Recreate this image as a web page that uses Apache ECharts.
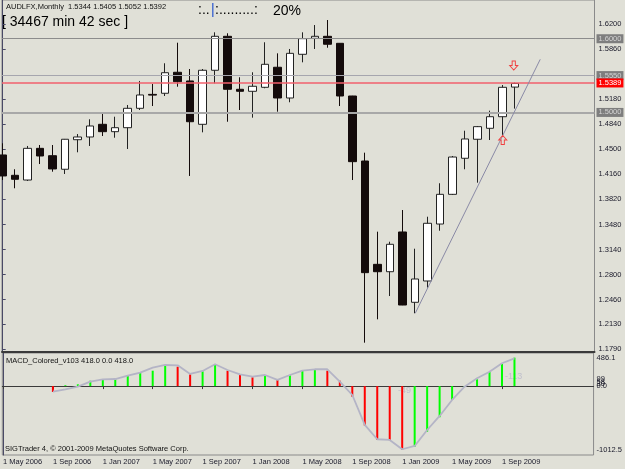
<!DOCTYPE html>
<html><head><meta charset="utf-8">
<script src="https://cdn.jsdelivr.net/npm/echarts@6/dist/echarts.min.js"></script>
<style>html,body{margin:0;padding:0;background:#e0e0d7}#c{width:625px;height:469px}</style>
</head><body><div id="c"></div>
<script>
// ---- data ----
const months = ['May 2006','Jun 2006','Jul 2006','Aug 2006','Sep 2006','Oct 2006','Nov 2006','Dec 2006',
  'Jan 2007','Feb 2007','Mar 2007','Apr 2007','May 2007','Jun 2007','Jul 2007','Aug 2007','Sep 2007','Oct 2007','Nov 2007','Dec 2007',
  'Jan 2008','Feb 2008','Mar 2008','Apr 2008','May 2008','Jun 2008','Jul 2008','Aug 2008','Sep 2008','Oct 2008','Nov 2008','Dec 2008',
  'Jan 2009','Feb 2009','Mar 2009','Apr 2009','May 2009','Jun 2009','Jul 2009','Aug 2009','Sep 2009','Oct 2009'];
const openP  = [1.4423,1.4147,1.4083,1.4513,1.4413,1.4229,1.4630,1.4667,1.4839,1.4739,1.4793,1.5056,1.5245,1.5260,1.5545,1.5427,1.4839,1.5572,1.6033,1.5314,1.5287,1.5341,1.5613,1.5196,1.5789,1.6006,1.6033,1.5938,1.5223,1.4341,1.2939,1.2839,1.3378,1.2424,1.2713,1.3486,1.3889,1.4378,1.4636,1.4785,1.4942,1.5344];
const highP  = [1.4581,1.4229,1.4545,1.4558,1.4558,1.4640,1.4707,1.4907,1.5002,1.4942,1.5101,1.5427,1.5386,1.5667,1.5946,1.5589,1.5589,1.6087,1.6074,1.5477,1.5545,1.5952,1.5802,1.5861,1.6087,1.6186,1.6254,1.5940,1.5225,1.4454,1.3382,1.3246,1.3676,1.3151,1.3585,1.4039,1.4409,1.4752,1.4816,1.5024,1.5372,1.5405];
const lowP   = [1.4083,1.3971,1.4070,1.4300,1.4196,1.4165,1.4459,1.4545,1.4680,1.4657,1.4504,1.5033,1.5087,1.5223,1.5349,1.4138,1.4730,1.5395,1.4874,1.5033,1.4929,1.5328,1.5010,1.5138,1.5680,1.5861,1.5878,1.5087,1.4083,1.1876,1.2193,1.2509,1.2385,1.2275,1.2622,1.3395,1.3880,1.4229,1.4047,1.4626,1.4694,1.5052];
const closeP = [1.4138,1.4093,1.4513,1.4409,1.4233,1.4636,1.4667,1.4816,1.4739,1.4793,1.5056,1.5237,1.5235,1.5539,1.5417,1.4874,1.5572,1.6033,1.5314,1.5287,1.5355,1.5653,1.5196,1.5802,1.6001,1.6033,1.5925,1.5223,1.4332,1.2826,1.2839,1.3211,1.2387,1.2740,1.3496,1.3889,1.4395,1.4640,1.4807,1.4942,1.5341,1.5392];
const macdHist = [null,null,null,null,-87,12,26,79,90,100,153,207,226,295,285,173,217,325,226,163,129,159,90,159,226,236,226,79,-156,-581,-791,-795,-938,-890,-670,-458,-204,-13,100,207,325,418];
const macdLine = [null,null,null,null,-82,-47,-9,65,100,104,153,197,270,310,305,178,222,320,236,173,138,163,90,163,226,247,247,65,-131,-571,-781,-791,-928,-880,-645,-439,-204,-9,115,211,335,408];
const priceTicks = [1.6200,1.5860,1.5180,1.4840,1.4500,1.4160,1.3820,1.3480,1.3140,1.2800,1.2460,1.2130,1.1790];
const levelLines = [1.6000,1.5550,1.5000];
const bidPrice = 1.5389;
const xTickIdx = [0,4,8,12,16,20,24,28,32,36,40];
const macdTicks = [486.1,99,58,30,0,-1012.5];
const trendStart = [33,1.2275], trendEnd = [43,1.5721];
const fractalUp = 40, fractalDown = 41;
const macdName = 'MACD_Colored_v103', macdVals = [418.0,0.0,418.0];
const timerText = '[ 34467 min 42 sec ]';
const progressPct = '20%';

// ---- chart ----
const FONT = 'Liberation Sans, Arial, sans-serif';
const XMIN = -0.056, XMAX = 47.34;
const MACD_MAX = macdTicks[0], MACD_MIN = macdTicks[macdTicks.length-1];
const chart = echarts.init(document.getElementById('c'), null, {renderer:'canvas'});
const candleData = months.map((m,i)=>[i, openP[i], closeP[i], lowP[i], highP[i]]);
const histData = macdHist.map((v,i)=>{
  if (v == null) return [i, null];
  const prev = i>0 ? macdHist[i-1] : null;
  const up = prev != null && v > prev;
  return {value:[i, v], itemStyle:{color: up ? '#00ff00' : '#ff0000'}};
});
const lineData = macdLine.map((v,i)=>[i, v]);
function lvlLabel(v, fg, bg){
  return {show:true, position:'end', distance:2, fontSize:7.5, fontFamily:FONT, color:fg, backgroundColor:bg, padding:[1,2,0,2], formatter:()=>v.toFixed(4)};
}
const downArrow = 'path://M3,0 L7,0 L7,5 L10,5 L5,10 L0,5 L3,5 Z';
const upArrow = 'path://M3,10 L7,10 L7,5 L10,5 L5,0 L0,5 L3,5 Z';

chart.setOption({
  animation:false,
  backgroundColor:'#e0e0d7',
  grid:[
    {left:2, top:0, right:30.5, height:352, show:true, borderColor:'#8a8a8a', borderWidth:1, backgroundColor:'transparent'},
    {left:2, top:353, right:30.5, height:102, show:true, borderColor:'#8a8a8a', borderWidth:1, backgroundColor:'transparent'}
  ],
  xAxis:[
    {type:'value', gridIndex:0, min:XMIN, max:XMAX, axisLine:{show:true, lineStyle:{color:'#3a3a3a', width:2}}, axisTick:{show:false}, axisLabel:{show:false}, splitLine:{show:false}},
    {type:'value', gridIndex:1, min:XMIN, max:XMAX, axisLine:{show:true, lineStyle:{color:'#3a3a3a', width:1}},
     axisTick:{show:true, customValues:xTickIdx, length:3, lineStyle:{color:'#3a3a3a'}},
     axisLabel:{show:true, customValues:xTickIdx, align:'left', margin:3, fontSize:7.5, fontFamily:FONT, color:'#1a1a2a', formatter:v=>'1 '+months[Math.round(v)]},
     splitLine:{show:false}}
  ],
  yAxis:[
    {type:'value', gridIndex:0, position:'right', min:1.17495, max:1.65256,
     axisLine:{show:true, lineStyle:{color:'#4a4a66'}},
     axisTick:{show:true, customValues:priceTicks, length:3, lineStyle:{color:'#4a4a66'}},
     axisLabel:{show:true, customValues:priceTicks, margin:4, fontSize:7.5, fontFamily:FONT, color:'#1a1a2a', formatter:v=>v.toFixed(4)},
     splitLine:{show:false}},
    {type:'value', gridIndex:1, position:'right', min:MACD_MIN, max:MACD_MAX,
     axisLine:{show:true, lineStyle:{color:'#4a4a66'}},
     axisTick:{show:false},
     axisLabel:{show:true, customValues:macdTicks, margin:3, fontSize:7.5, fontFamily:FONT, color:'#1a1a2a',
       formatter:v=>{
         if (v === MACD_MAX) return '{top|'+v.toFixed(1)+'}';
         if (v === MACD_MIN) return '{bot|'+v.toFixed(1)+'}';
         return v===0 ? '0.0' : String(v);
       },
       rich:{top:{padding:[10,0,0,0], fontSize:7.5, fontFamily:FONT, color:'#1a1a2a'},
             bot:{padding:[0,0,10,0], fontSize:7.5, fontFamily:FONT, color:'#1a1a2a'}}},
     splitLine:{show:false}}
  ],
  series:[
    {type:'candlestick', xAxisIndex:0, yAxisIndex:0, data:candleData, barWidth:8, clip:true,
     itemStyle:{color:'#ffffff', color0:'#140b0b', borderColor:'#222222', borderColor0:'#140b0b', borderWidth:1},
     markLine:{silent:true, symbol:['none','none'], animation:false,
       data:[
         {yAxis:levelLines[0], lineStyle:{color:'#8c8c8c', width:1, type:'solid'}, label:lvlLabel(levelLines[0],'#d4d4d4','#7e7e7e')},
         {yAxis:levelLines[1], lineStyle:{color:'#a6a6ae', width:1, type:'solid'}, label:lvlLabel(levelLines[1],'#d4d4d4','#7e7e7e')},
         {yAxis:levelLines[2], lineStyle:{color:'#a8a8a8', width:2, type:'solid'}, label:lvlLabel(levelLines[2],'#d4d4d4','#7e7e7e')},
         {yAxis:bidPrice, lineStyle:{color:'#f2606c', width:1.5, type:'solid'}, label:lvlLabel(bidPrice,'#ffffff','#ff0000')},
         [{coord:trendStart, lineStyle:{color:'#8a8aa6', width:1, type:'solid'}, label:{show:false}}, {coord:trendEnd}]
       ]},
     markPoint:{silent:true, animation:false, label:{show:false},
       data:[
         {coord:[fractalDown, highP[fractalDown]], symbol:downArrow, symbolSize:[8,9], symbolOffset:[-1.5,-17], itemStyle:{color:'rgba(0,0,0,0)', borderColor:'#f04040', borderWidth:1}},
         {coord:[fractalUp, lowP[fractalUp]], symbol:upArrow, symbolSize:[8,9], symbolOffset:[0,5], itemStyle:{color:'rgba(0,0,0,0)', borderColor:'#f04040', borderWidth:1}}
       ]}
    },
    {type:'bar', xAxisIndex:1, yAxisIndex:1, data:histData, barWidth:2, itemStyle:{color:'#00ff00'}},
    {type:'line', xAxisIndex:1, yAxisIndex:1, data:lineData, showSymbol:false, symbol:'none', connectNulls:false,
     lineStyle:{color:'#b4b4c6', width:1.8}, z:3}
  ],
  graphic:[
    {type:'text', left:6, top:3, style:{text:'AUDLFX,Monthly  '+[openP[41],highP[41],lowP[41],closeP[41]].map(v=>v.toFixed(4)).join(' '), font:'7.5px '+FONT, fill:'#111111'}},
    {type:'text', left:2, top:15, style:{text:timerText, font:'14px '+FONT, fill:'#000000'}},
    {type:'text', left:198, top:3, style:{text:':..', font:'14px '+FONT, fill:'#000000'}},
    {type:'text', left:211, top:3, style:{text:'|', font:'14px '+FONT, fill:'#2050d0'}},
    {type:'text', left:215, top:3, style:{text:':.........:', font:'14px '+FONT, fill:'#000000'}},
    {type:'text', left:273, top:4, style:{text:progressPct, font:'14px '+FONT, fill:'#000000'}},
    {type:'text', left:6, top:357, style:{text:macdName+' '+macdVals.map(v=>v.toFixed(1)).join(' '), font:'7.5px '+FONT, fill:'#111111'}},
    {type:'text', left:5, top:445, style:{text:'SIGTrader 4, \u00a9 2001-2009 MetaQuotes Software Corp.', font:'7.5px '+FONT, fill:'#111111'}},
    {type:'text', left:398, top:386, style:{text:'-49', font:'9px '+FONT, fill:'#c0c0cc'}},
    {type:'text', left:505, top:372, style:{text:'-113', font:'9px '+FONT, fill:'#c0c0cc'}}
  ]
});
</script></body></html>
